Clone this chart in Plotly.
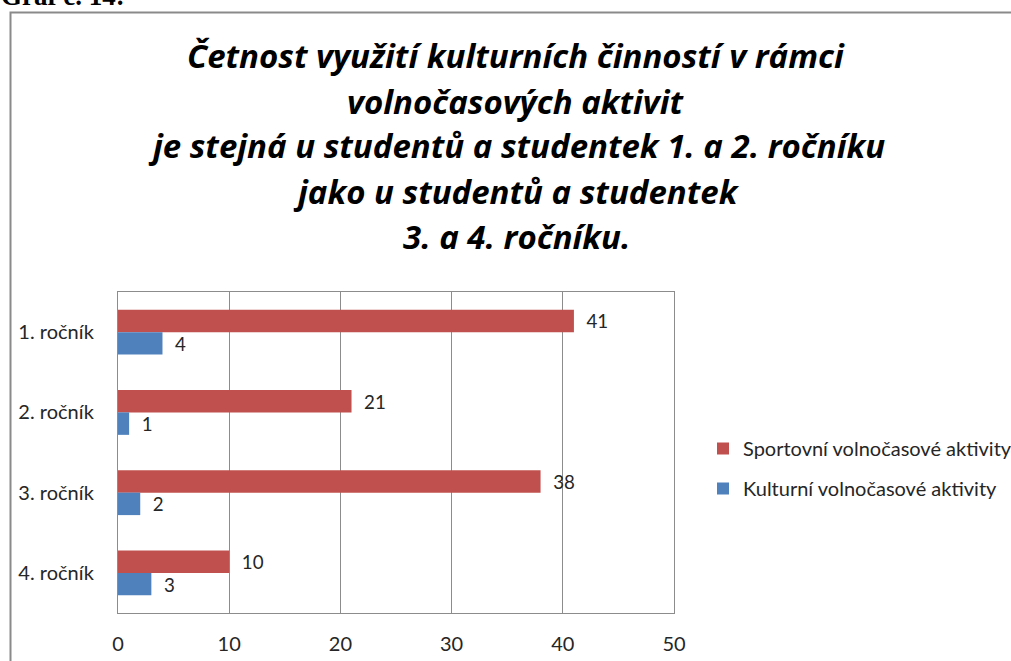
import plotly.graph_objects as go

categories = ["1. ročník", "2. ročník", "3. ročník", "4. ročník"]
sport_values = [41, 21, 38, 10]
kultura_values = [4, 1, 2, 3]
series_names = ["Sportovní volnočasové aktivity", "Kulturní volnočasové aktivity"]
title_lines = [
    "Četnost využití kulturních činností v rámci",
    "volnočasových aktivit",
    "je stejná u studentů a studentek 1. a 2. ročníku",
    "jako u studentů a studentek",
    "3. a 4. ročníku.",
]
x_ticks = [0, 10, 20, 30, 40, 50]

W, H = 1011, 661
L, R, T, B = 118, 337, 292, 48
PW, PH = W - L - R, H - T - B

def px(x):
    return (x - L) / PW

def py(y):
    return (H - B - y) / PH

FONT = "Lato"
TXT = "#262626"
nb = "\u00a0\u00a0"

fig = go.Figure()
fig.add_trace(go.Bar(
    y=categories, x=sport_values, orientation="h", name=series_names[0],
    marker=dict(color="#C0504D", line=dict(width=0)),
    text=[nb + str(v) for v in sport_values], textposition="outside",
    textfont=dict(family=FONT, size=20, color=TXT), cliponaxis=False,
    legendgroup="a",
))
fig.add_trace(go.Bar(
    y=categories, x=kultura_values, orientation="h", name=series_names[1],
    marker=dict(color="#4F81BD", line=dict(width=0)),
    text=[nb + str(v) for v in kultura_values], textposition="outside",
    textfont=dict(family=FONT, size=20, color=TXT), cliponaxis=False,
    legendgroup="b",
))

annotations = []
title_y = [56, 101, 146, 191, 236]
for line, yc in zip(title_lines, title_y):
    annotations.append(dict(
        text=line, xref="paper", yref="paper", x=px(516), y=py(yc),
        xanchor="center", yanchor="middle", showarrow=False,
        font=dict(family="Open Sans", size=33, color="#000000", weight="bold", style="italic"),
    ))
annotations.append(dict(
    text="<b>Graf č. 14:</b>", xref="paper", yref="paper", x=px(-1), y=py(-4),
    xanchor="left", yanchor="middle", showarrow=False,
    font=dict(family="Liberation Serif", size=27, color="#000000"),
))

fig.update_layout(
    width=W, height=H,
    margin=dict(l=L, r=R, t=T, b=B, pad=0, autoexpand=False),
    paper_bgcolor="white", plot_bgcolor="white",
    barmode="group", bargap=0.44, bargroupgap=0,
    font=dict(family=FONT, size=20, color=TXT),
    xaxis=dict(range=[0, 50], tickvals=x_ticks, showgrid=True, gridcolor="#8c8c8c",
               gridwidth=1, showline=True, linecolor="#8c8c8c", linewidth=1, mirror=True,
               zeroline=False, ticks="", ticklabelstandoff=13, automargin=False,
               tickfont=dict(family=FONT, size=20, color=TXT), fixedrange=True),
    yaxis=dict(autorange="reversed", showgrid=False, showline=True, linecolor="#8c8c8c",
               linewidth=1, mirror=True, ticks="", ticklabelstandoff=19, automargin=False,
               tickfont=dict(family=FONT, size=20, color=TXT), fixedrange=True),
    legend=dict(x=px(703), y=py(429), xanchor="left", yanchor="top",
                traceorder="grouped", tracegroupgap=11, bgcolor="rgba(0,0,0,0)",
                font=dict(family=FONT, size=20, color=TXT), itemwidth=30),
    annotations=annotations,
    shapes=[dict(type="rect", xref="paper", yref="paper",
                 x0=px(10.5), x1=px(1030), y0=py(12.5), y1=py(680),
                 line=dict(color="#8a8a8a", width=2), layer="below")],
)

fig.write_html("out.html", config={"displayModeBar": False},
               post_script="document.body.style.margin='0';")
